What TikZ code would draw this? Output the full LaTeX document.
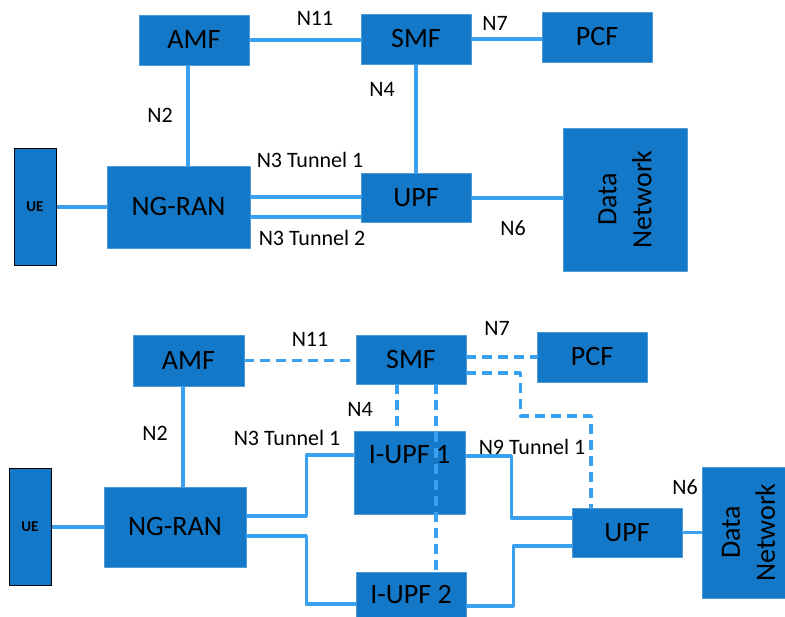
\documentclass[tikz,border=0pt]{standalone}
\usepackage{fontspec}
\setmainfont{Carlito}
\definecolor{boxblue}{RGB}{19,120,199}
\definecolor{linkblue}{RGB}{58,160,240}
\tikzset{
  nf/.style={fill=boxblue,draw=boxblue!75!white,line width=0.6pt,minimum width=110pt,minimum height=50pt,inner sep=0pt,font=\fontsize{28}{30}\selectfont},
  uebox/.style={fill=boxblue,draw=black,line width=1pt,minimum width=42pt,minimum height=117pt,inner sep=0pt,font=\fontsize{15}{17}\selectfont\bfseries},
  dn/.style={nf,rotate=90,align=center,font=\fontsize{28}{35}\selectfont},
  link/.style={draw=linkblue,line width=3.5pt},
  ctrl/.style={link,dash pattern=on 10pt off 6pt},
  lbl/.style={inner sep=0pt,font=\fontsize{22}{24}\selectfont},
}
\begin{document}
\begin{tikzpicture}[x=1pt,y=-1pt,line join=round]
\clip (0,0) rectangle (785,617);
% upper diagram
\node[nf] (amf1) at (194,40) {AMF};
\node[nf] (smf1) at (416,39) {SMF};
\node[nf] (pcf1) at (597,37) {PCF};
\node[uebox] (ue1) at (35,207) {UE};
\node[nf,minimum width=143pt,minimum height=82pt] (ran1) at (178.5,207) {NG-RAN};
\node[nf,minimum height=49pt] (upf1) at (416,198) {UPF};
\node[dn,minimum width=143pt,minimum height=124pt] (dn1) at (625,199.5) {Data\\Network};
\draw[link] (amf1.east) -- (amf1.east -| smf1.west);
\draw[link] (smf1.east) -- (smf1.east -| pcf1.west);
\draw[link] ([xshift=-6pt]amf1.south) -- ([xshift=-6pt]amf1.south |- ran1.north);
\draw[link] (smf1) -- (upf1);
\draw[link] (ue1) -- (ran1);
\draw[link] ([yshift=10pt]ran1.east) -- ([yshift=10pt]ran1.east -| upf1.west);
\draw[link] ([yshift=-10pt]ran1.east) -- ([yshift=-10pt]ran1.east -| upf1.west);
\draw[link] (upf1.east) -- (upf1.east -| dn1.north);
\node[lbl] (n11a) at (315,18) {N11};
\node[lbl] (n7a) at (495,23) {N7};
\node[lbl] (n4a) at (382,89) {N4};
\node[lbl] (n2a) at (160,115) {N2};
\node[lbl] (n3t1a) at (310,160) {N3 Tunnel 1};
\node[lbl] (n3t2a) at (312,238) {N3 Tunnel 2};
\node[lbl] (n6a) at (513,228) {N6};
% lower diagram
\node[nf,minimum width=111pt,minimum height=51pt] (amf2) at (188.5,360.5) {AMF};
\node[nf,minimum height=49pt] (smf2) at (411,359.5) {SMF};
\node[nf] (pcf2) at (592,357) {PCF};
\node[uebox,minimum height=116pt] (ue2) at (30,527) {UE};
\node[nf,minimum width=142pt,minimum height=80pt] (ran2) at (175,527) {NG-RAN};
\node[nf,minimum width=111pt,minimum height=83pt] (iupf1) at (409.5,472.5) {};
\node[font=\fontsize{28}{30}\selectfont,inner sep=0pt] (iupf1lbl) at (409.5,455) {I-UPF 1};
\node[nf,minimum height=46pt] (iupf2) at (411,595) {I-UPF 2};
\node[nf,minimum height=49pt] (upf2) at (627,532.5) {UPF};
\node[dn,minimum width=131pt,minimum height=93pt] (dn2) at (748.5,532.5) {Data\\Network};
\draw[ctrl] (amf2.east) -- (amf2.east -| smf2.west);
\draw[ctrl] ([yshift=2.5pt]smf2.east) -- ([yshift=2.5pt]smf2.east -| pcf2.west);
\draw[ctrl] ([yshift=-13.5pt]smf2.east) -| ++(54,43) -| ([xshift=-36pt]upf2.north);
\draw[ctrl] ([xshift=-14pt]smf2.south) -- ([xshift=-14pt]smf2.south |- iupf1.north);
\draw[ctrl] ([xshift=25pt]smf2.south) -- ([xshift=25pt]smf2.south |- iupf2.north);
\draw[link] ([xshift=-5.5pt]amf2.south) -- ([xshift=-5.5pt]amf2.south |- ran2.north);
\draw[link] (ue2) -- (ran2);
\draw[link] ([yshift=11pt]ran2.east) -- ++(60,0) |- ([yshift=17.5pt]iupf1.west);
\draw[link] ([yshift=-9pt]ran2.east) -- ++(60,0) |- ([yshift=-9pt]iupf2.west);
\draw[link] ([yshift=16.5pt]iupf1.east) -- ++(46,0) |- ([yshift=14.5pt]upf2.west);
\draw[link] ([yshift=-11pt]iupf2.east) -- ++(47,0) |- ([yshift=-13.5pt]upf2.west);
\draw[link] (upf2.east) -- (upf2.east -| dn2.north);
\node[lbl] (n11b) at (310,339) {N11};
\node[lbl] (n7b) at (497,328) {N7};
\node[lbl] (n4b) at (360,409) {N4};
\node[lbl] (n2b) at (155,433) {N2};
\node[lbl] (n3t1b) at (287,438) {N3 Tunnel 1};
\node[lbl] (n9t1b) at (532,447) {N9 Tunnel 1};
\node[lbl] (n6b) at (685,487) {N6};
\end{tikzpicture}
\end{document}
